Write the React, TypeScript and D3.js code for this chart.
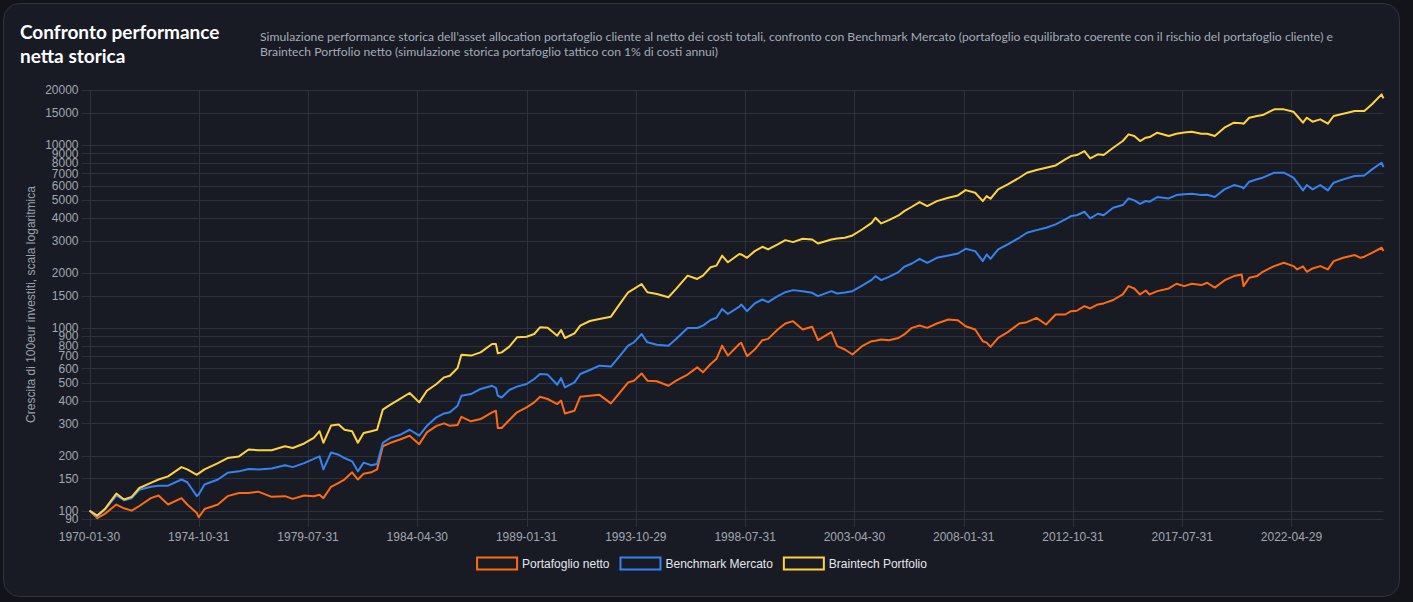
import { useEffect, useRef } from 'react';
import * as d3 from 'd3';

// Monthly samples (YYYY-MM) shared by the three series
const dates = [
  '1970-01', '1970-05', '1970-09', '1971-03', '1971-07', '1971-11', '1972-03', '1972-09', '1973-01', '1973-06',
  '1974-01', '1974-04', '1974-09', '1974-10', '1975-01', '1975-08', '1976-01', '1976-07', '1976-12', '1977-05',
  '1977-12', '1978-07', '1978-11', '1979-05', '1979-10', '1980-01', '1980-03', '1980-07', '1980-11', '1981-02',
  '1981-06', '1981-09', '1981-12', '1982-04', '1982-07', '1982-10', '1983-02', '1983-07', '1983-12', '1984-05',
  '1984-09', '1985-02', '1985-06', '1985-09', '1986-01', '1986-03', '1986-08', '1987-01', '1987-07', '1987-09',
  '1987-10', '1987-12', '1988-04', '1988-08', '1989-01', '1989-05', '1989-08', '1989-12', '1990-05', '1990-07',
  '1990-09', '1991-02', '1991-05', '1991-10', '1992-03', '1992-09', '1993-01', '1993-06', '1993-09', '1994-01',
  '1994-04', '1994-09', '1995-03', '1995-07', '1996-01', '1996-06', '1996-09', '1997-01', '1997-04', '1997-07',
  '1997-10', '1998-04', '1998-05', '1998-08', '1998-12', '1999-04', '1999-07', '1999-12', '2000-04', '2000-08',
  '2001-01', '2001-06', '2001-09', '2002-04', '2002-07', '2002-11', '2003-03', '2003-08', '2004-01', '2004-03',
  '2004-06', '2004-10', '2005-03', '2005-06', '2005-10', '2006-02', '2006-06', '2006-11', '2007-05', '2007-10',
  '2008-02', '2008-07', '2008-11', '2009-01', '2009-03', '2009-07', '2009-12', '2010-06', '2010-10', '2011-03',
  '2011-08', '2012-01', '2012-06', '2012-09', '2012-12', '2013-04', '2013-07', '2013-11', '2014-02', '2014-07',
  '2014-12', '2015-03', '2015-06', '2015-09', '2015-12', '2016-02', '2016-06', '2016-12', '2017-04', '2017-08',
  '2017-12', '2018-05', '2018-08', '2018-12', '2019-05', '2019-10', '2020-02', '2020-03', '2020-06', '2020-10',
  '2021-01', '2021-07', '2021-12', '2022-05', '2022-07', '2022-10', '2022-12', '2023-03', '2023-07', '2023-11',
  '2024-02', '2024-07', '2025-01', '2025-04', '2025-06', '2025-10', '2026-03', '2026-04',
];

const portafoglioNetto = [
  100, 91, 96, 108, 103, 100, 106, 117, 121, 108,
  117, 108, 97, 92, 102, 108, 120, 125, 125, 127,
  119, 120, 116, 121, 120, 122, 117, 135, 142, 148,
  162, 148, 159, 162, 168, 225, 235, 245, 257, 231,
  268, 291, 300, 291, 294, 326, 308, 317, 345, 352,
  283, 283, 313, 345, 367, 391, 420, 408, 383, 400,
  340, 352, 420, 425, 430, 386, 434, 503, 514, 563,
  514, 510, 482, 514, 555, 608, 571, 634, 675, 799,
  705, 816, 827, 700, 761, 856, 870, 979, 1056, 1088,
  979, 1013, 856, 947, 794, 761, 715, 794, 845, 850,
  863, 855, 880, 920, 1000, 1030, 1000, 1056, 1111, 1101,
  1021, 979, 845, 830, 787, 882, 947, 1056, 1074, 1134,
  1043, 1183, 1183, 1234, 1240, 1314, 1276, 1342, 1360, 1420,
  1523, 1691, 1642, 1523, 1600, 1523, 1588, 1642, 1742, 1691,
  1742, 1713, 1764, 1660, 1816, 1919, 1959, 1691, 1878, 1919,
  2026, 2176, 2270, 2176, 2087, 2170, 2026, 2113, 2176, 2087,
  2318, 2416, 2500, 2416, 2450, 2574, 2742, 2629,
];

const benchmarkMercato = [
  100, 93, 101, 121, 114, 117, 130, 135, 137, 137,
  148, 143, 120, 123, 139, 148, 161, 164, 169, 168,
  170, 177, 173, 182, 192, 198, 168, 208, 202, 194,
  186, 164, 183, 177, 180, 235, 250, 260, 277, 257,
  291, 324, 340, 345, 375, 425, 434, 463, 482, 470,
  425, 416, 457, 477, 493, 525, 559, 555, 488, 531,
  473, 503, 559, 588, 621, 614, 689, 799, 833, 925,
  833, 809, 799, 868, 998, 998, 1028, 1104, 1135, 1268,
  1190, 1305, 1342, 1234, 1359, 1429, 1382, 1490, 1567, 1608,
  1587, 1554, 1490, 1587, 1541, 1560, 1587, 1700, 1830, 1918,
  1823, 1901, 2017, 2158, 2249, 2386, 2268, 2416, 2488, 2550,
  2706, 2628, 2317, 2520, 2386, 2684, 2858, 3109, 3311, 3424,
  3527, 3679, 3917, 4087, 4130, 4316, 3968, 4207, 4130, 4539,
  4694, 5105, 4978, 4760, 4941, 4900, 5192, 5105, 5324, 5380,
  5415, 5324, 5350, 5192, 5720, 6040, 5900, 5791, 6300, 6500,
  6626, 7058, 7058, 6626, 6220, 5648, 6040, 5720, 6040, 5648,
  6220, 6490, 6765, 6800, 6820, 7358, 8003, 7577,
];

const braintechPortfolio = [
  100, 94, 102, 124, 115, 119, 133, 142, 148, 154,
  173, 168, 157, 160, 168, 182, 194, 198, 216, 214,
  214, 225, 220, 233, 250, 272, 235, 292, 296, 277,
  272, 235, 266, 272, 277, 357, 380, 409, 440, 391,
  453, 493, 536, 547, 603, 712, 705, 734, 816, 816,
  725, 734, 789, 887, 894, 925, 1006, 1000, 906, 973,
  880, 933, 1028, 1090, 1118, 1151, 1322, 1565, 1632, 1737,
  1565, 1532, 1469, 1632, 1929, 1851, 1929, 2144, 2189, 2483,
  2283, 2536, 2520, 2416, 2628, 2776, 2684, 2858, 3018, 2944,
  3070, 3044, 2894, 3044, 3080, 3109, 3202, 3450, 3750, 4000,
  3725, 3886, 4120, 4352, 4596, 4874, 4634, 4935, 5147, 5300,
  5668, 5481, 4935, 5257, 5083, 5717, 6089, 6622, 7053, 7295,
  7511, 7735, 8345, 8706, 8816, 9271, 8454, 8891, 8816, 9669,
  10518, 11441, 11200, 10518, 10968, 11060, 11683, 11200, 11535, 11700,
  11830, 11535, 11535, 11200, 12440, 13248, 13150, 13080, 14107, 14400,
  14593, 15671, 15671, 15220, 14410, 13248, 14107, 13420, 13820, 13080,
  14410, 14840, 15350, 15350, 15350, 16700, 18940, 18010,
];

const xTickLabels = [
  '1970-01-30', '1974-10-31', '1979-07-31', '1984-04-30', '1989-01-31', '1993-10-29',
  '1998-07-31', '2003-04-30', '2008-01-31', '2012-10-31', '2017-07-31', '2022-04-29',
];

const yTickValues = [
  90, 100, 150, 200, 300, 400, 500, 600, 700, 800, 900, 1000, 1500,
  2000, 3000, 4000, 5000, 6000, 7000, 8000, 9000, 10000, 15000, 20000,
];

const seriesNames = ['Portafoglio netto', 'Benchmark Mercato', 'Braintech Portfolio'];
const seriesColors = ['#ff6a13', '#3483f0', '#ffd23f'];

const titleLines = ['Confronto performance', 'netta storica'];
const subtitleLines = [
  'Simulazione performance storica dell’asset allocation portafoglio cliente al netto dei costi totali, confronto con Benchmark Mercato (portafoglio equilibrato coerente con il rischio del portafoglio cliente) e',
  'Braintech Portfolio netto (simulazione storica portafoglio tattico con 1% di costi annui)',
];
const yAxisTitle = 'Crescita di 100eur investiti, scala logaritmica';

const W = 1413;
const H = 602;

const monthIndex = (s: string) => {
  const [y, m] = s.split('-').map(Number);
  return (y - 1970) * 12 + (m - 1);
};

export default function App() {
  const svgRef = useRef<SVGSVGElement>(null);

  useEffect(() => {
    if (!svgRef.current) return;
    const svg = d3.select(svgRef.current);
    svg.selectAll('*').remove();

    const area = { left: 89.5, right: 1383.5, top: 90, bottom: 519 };
    const axisFont = '"Liberation Sans", Arial, sans-serif';
    const headFont = 'Lato, "Noto Sans", sans-serif';

    // page + card
    svg.append('rect').attr('width', W).attr('height', H).attr('fill', '#121419');
    svg.append('rect')
      .attr('x', 3.5).attr('y', 3.5).attr('width', 1396).attr('height', 593)
      .attr('rx', 16)
      .attr('fill', '#181b23')
      .attr('stroke', '#2e333e');

    // header
    titleLines.forEach((t, i) => {
      svg.append('text')
        .attr('x', 20).attr('y', 39 + i * 23.5)
        .attr('fill', '#ffffff')
        .style('font-family', headFont)
        .style('font-size', '19px')
        .style('font-weight', 'bold')
        .text(t);
    });
    subtitleLines.forEach((t, i) => {
      svg.append('text')
        .attr('x', 260).attr('y', 40.5 + i * 15.5)
        .attr('fill', '#a3abb8')
        .attr('textLength', i === 0 ? 1073 : 458)
        .attr('lengthAdjust', 'spacingAndGlyphs')
        .style('font-family', headFont)
        .style('font-size', '12px')
        .text(t);
    });

    const lastIdx = monthIndex(dates[dates.length - 1]);
    const x = d3.scaleLinear().domain([0, lastIdx]).range([area.left, area.right]);
    const y = d3.scaleLog().domain([90, 20000]).range([area.bottom, area.top]);

    // grid
    const grid = svg.append('g').attr('stroke', '#2c313c').attr('stroke-width', 1);
    yTickValues.forEach(v => {
      const yy = Math.round(y(v)) + 0.5;
      grid.append('line').attr('x1', 82).attr('x2', area.right).attr('y1', yy).attr('y2', yy);
    });
    xTickLabels.forEach(lbl => {
      const xx = Math.round(x(monthIndex(lbl.slice(0, 7)))) + 0.5;
      grid.append('line').attr('x1', xx).attr('x2', xx).attr('y1', area.top).attr('y2', 527);
    });

    // tick labels
    svg.append('g')
      .selectAll('text')
      .data(yTickValues)
      .join('text')
      .attr('x', 78.5)
      .attr('y', d => y(d) + 4.3)
      .attr('text-anchor', 'end')
      .attr('fill', '#a1a7b1')
      .style('font-family', axisFont)
      .style('font-size', '12px')
      .text(d => String(d));

    svg.append('g')
      .selectAll('text')
      .data(xTickLabels)
      .join('text')
      .attr('x', d => x(monthIndex(d.slice(0, 7))))
      .attr('y', 541)
      .attr('text-anchor', 'middle')
      .attr('fill', '#a1a7b1')
      .style('font-family', axisFont)
      .style('font-size', '12px')
      .text(d => d);

    svg.append('text')
      .attr('transform', `translate(35,${(area.top + area.bottom) / 2}) rotate(-90)`)
      .attr('text-anchor', 'middle')
      .attr('fill', '#9aa2ae')
      .style('font-family', axisFont)
      .style('font-size', '12px')
      .text(yAxisTitle);

    // series
    const allSeries = [portafoglioNetto, benchmarkMercato, braintechPortfolio];
    const line = d3.line<number>()
      .x((_, i) => x(monthIndex(dates[i])))
      .y(d => y(d));

    allSeries.forEach((values, k) => {
      svg.append('path')
        .datum(values)
        .attr('fill', 'none')
        .attr('stroke', seriesColors[k])
        .attr('stroke-width', 2)
        .attr('stroke-linejoin', 'round')
        .attr('d', line);
    });

    // legend
    const legend = svg.append('g');
    const boxW = 40;
    const boxH = 12;
    const items: { g: d3.Selection<SVGGElement, unknown, null, undefined>; w: number }[] = [];
    seriesNames.forEach((name, k) => {
      const g = legend.append('g');
      g.append('rect')
        .attr('x', 1).attr('y', 0)
        .attr('width', boxW).attr('height', boxH)
        .attr('fill', 'none')
        .attr('stroke', seriesColors[k])
        .attr('stroke-width', 2);
      const t = g.append('text')
        .attr('x', boxW + 6).attr('y', 10.5)
        .attr('fill', '#e4e7ec')
        .style('font-family', axisFont)
        .style('font-size', '12px')
        .text(name);
      const tw = (t.node() as SVGTextElement).getComputedTextLength();
      items.push({ g, w: boxW + 6 + tw });
    });
    const gap = 10;
    const total = d3.sum(items, d => d.w) + gap * (items.length - 1);
    let cx = 701.5 - total / 2;
    items.forEach(it => {
      it.g.attr('transform', `translate(${cx},557.5)`);
      cx += it.w + gap;
    });
  }, []);

  return (
    <div>
      <style>{`body{margin:0;background:#121419;}`}</style>
      <svg ref={svgRef} width={W} height={H} style={{ display: 'block' }} />
    </div>
  );
}
